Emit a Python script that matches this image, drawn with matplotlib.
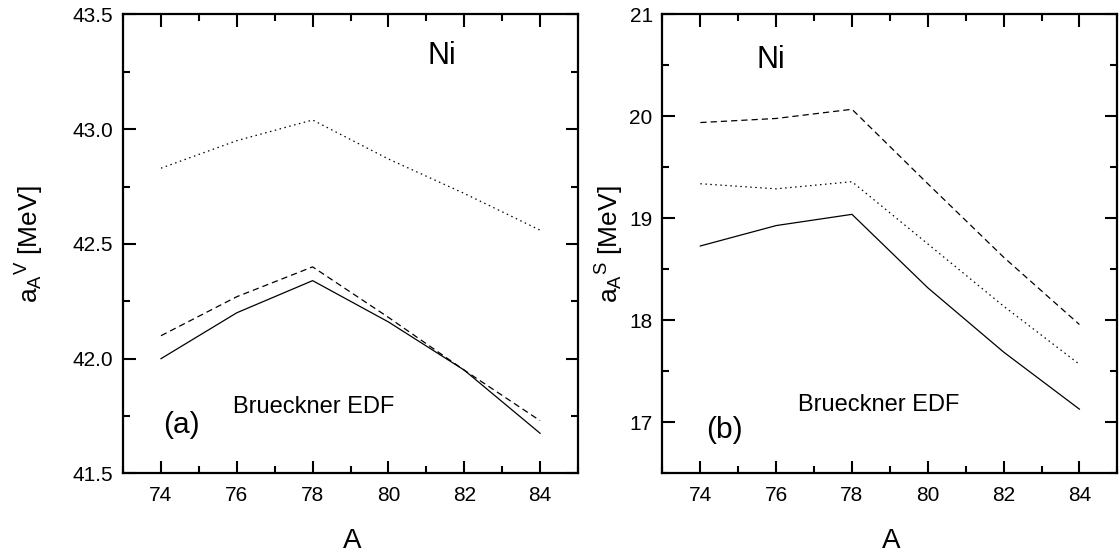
import numpy as np
import matplotlib
matplotlib.use("Agg")
import matplotlib.pyplot as plt
from matplotlib.ticker import MultipleLocator, FormatStrFormatter

plt.rcParams["font.family"] = ["Liberation Sans", "DejaVu Sans"]
plt.rcParams["mathtext.fontset"] = "custom"
plt.rcParams["mathtext.rm"] = "Liberation Sans"
plt.rcParams["mathtext.it"] = "Liberation Sans"

# mass number A of the Ni isotopes
mass_a = [74, 76, 78, 80, 82, 84]

# (a) volume coefficient a_A^V [MeV]
vol_solid = [42.00, 42.20, 42.34, 42.16, 41.95, 41.675]
vol_dashed = [42.10, 42.27, 42.40, 42.18, 41.95, 41.73]
vol_dotted = [42.83, 42.95, 43.04, 42.87, 42.72, 42.56]

# (b) surface coefficient a_A^S [MeV]
surf_solid = [18.73, 18.93, 19.04, 18.32, 17.69, 17.13]
surf_dashed = [19.94, 19.98, 20.07, 19.34, 18.62, 17.96]
surf_dotted = [19.34, 19.29, 19.36, 18.75, 18.14, 17.57]

fig = plt.figure(figsize=(11.19, 5.55), dpi=100)
ax1 = fig.add_axes([0.110, 0.147, 0.4065, 0.827])
ax2 = fig.add_axes([0.592, 0.147, 0.4065, 0.827])


def style_axes(ax):
    for side in ax.spines.values():
        side.set_linewidth(1.6)
    ax.set_xlim(73, 85)
    ax.xaxis.set_major_locator(MultipleLocator(2))
    ax.xaxis.set_minor_locator(MultipleLocator(1))
    ax.tick_params(which="both", direction="in", top=True, right=True,
                   labelsize=15, width=1.5)
    ax.tick_params(which="major", length=9, pad=9)
    ax.tick_params(axis="y", which="major", pad=7)
    ax.tick_params(which="minor", length=5)


def draw_lines(ax, solid, dashed, dotted):
    ax.plot(mass_a, solid, color="black", lw=0.9, ls="-")
    ax.plot(mass_a, dashed, color="black", lw=0.9, ls=(0, (5, 3.2)))
    ax.plot(mass_a, dotted, color="black", lw=0.9, ls=(0, (1.2, 2.8)))


# panel (a)
style_axes(ax1)
draw_lines(ax1, vol_solid, vol_dashed, vol_dotted)
ax1.set_ylim(41.5, 43.5)
ax1.yaxis.set_major_locator(MultipleLocator(0.5))
ax1.yaxis.set_minor_locator(MultipleLocator(0.25))
ax1.yaxis.set_major_formatter(FormatStrFormatter("%.1f"))
ax1.set_xlabel("A", fontsize=20)
ax1.set_ylabel(r"$\mathregular{a_A{}^{V}}$ [MeV]", fontsize=19)
ax1.xaxis.set_label_coords(0.503, -0.12)
ax1.yaxis.set_label_coords(-0.17, 0.5)
ax1.text(81.04, 43.32, "Ni", fontsize=22, ha="left", va="center")
ax1.text(75.89, 41.79, "Brueckner EDF", fontsize=17, ha="left", va="center")
ax1.text(74.06, 41.71, "(a)", fontsize=21.5, ha="left", va="center")

# panel (b)
style_axes(ax2)
draw_lines(ax2, surf_solid, surf_dashed, surf_dotted)
ax2.set_ylim(16.5, 21)
ax2.yaxis.set_major_locator(MultipleLocator(1))
ax2.yaxis.set_minor_locator(MultipleLocator(0.5))
ax2.set_xlabel("A", fontsize=20)
ax2.set_ylabel(r"$\mathregular{a_A{}^{S}}$ [MeV]", fontsize=19)
ax2.xaxis.set_label_coords(0.503, -0.12)
ax2.yaxis.set_label_coords(-0.08, 0.5)
ax2.text(75.47, 20.55, "Ni", fontsize=22, ha="left", va="center")
ax2.text(76.58, 17.17, "Brueckner EDF", fontsize=17, ha="left", va="center")
ax2.text(74.16, 16.93, "(b)", fontsize=21.5, ha="left", va="center")

fig.savefig("out.png", dpi=100)
